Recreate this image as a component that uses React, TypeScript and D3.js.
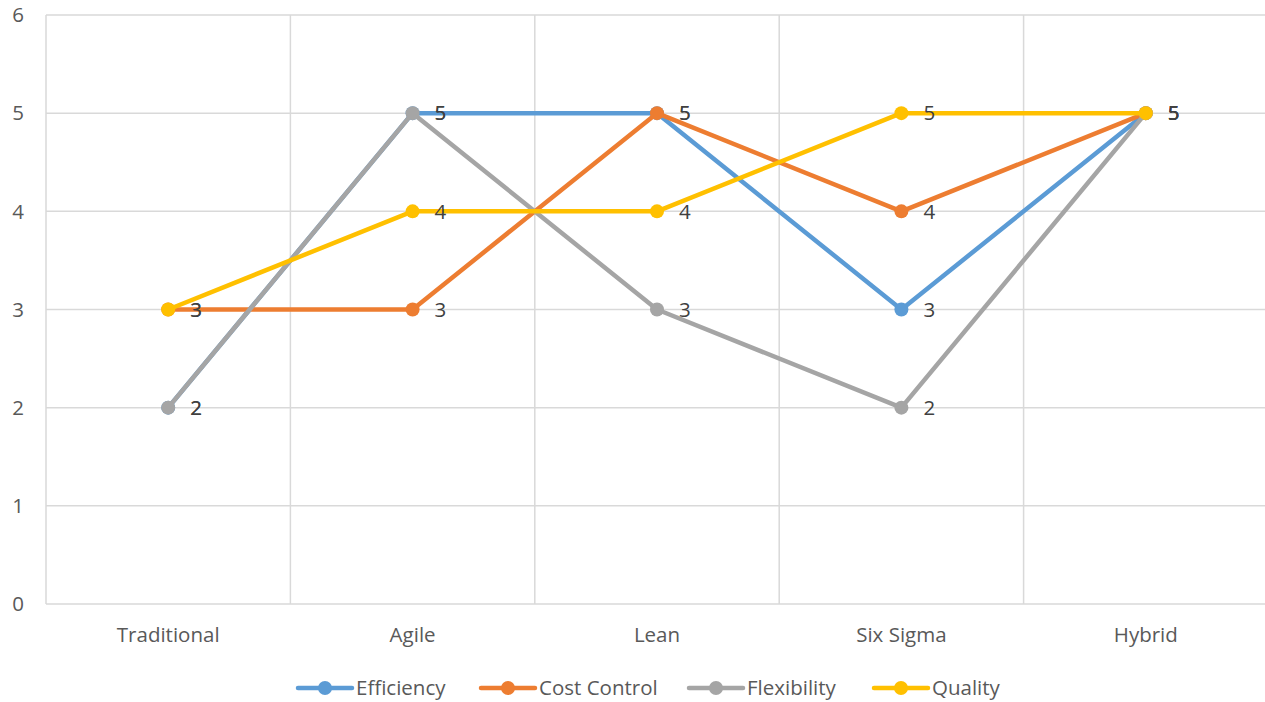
import React from "react";
import * as d3 from "d3";

const categories = ["Traditional", "Agile", "Lean", "Six Sigma", "Hybrid"];
const seriesNames = ["Efficiency", "Cost Control", "Flexibility", "Quality"];
const efficiency = [2, 5, 5, 3, 5];
const costControl = [3, 3, 5, 4, 5];
const flexibility = [2, 5, 3, 2, 5];
const quality = [3, 4, 4, 5, 5];
const yTicks = [0, 1, 2, 3, 4, 5, 6];
const colors = ["#5B9BD5", "#ED7D31", "#A5A5A5", "#FFC000"];

const W = 1265;
const H = 702;
const left = 46;
const right = 1268;
const top = 15;
const bottom = 604;
const FONT = "'Open Sans', sans-serif";
const FS = 20.5;

export default function App() {
  const series = [efficiency, costControl, flexibility, quality];
  const x = d3.scaleBand<string>().domain(categories).range([left, right]);
  const y = d3.scaleLinear().domain([0, 6]).range([bottom, top]);
  const cx = (c: string) => (x(c) ?? 0) + x.bandwidth() / 2;
  const line = d3
    .line<number>()
    .x((_, i) => cx(categories[i]))
    .y((d) => y(d));

  const legendX = [298, 481, 689, 874];

  return (
    <svg width={W} height={H} style={{ position: "absolute", left: 0, top: 0 }}>
      <rect width={W} height={H} fill="#fff" />
      {yTicks.map((t) => (
        <line key={"h" + t} x1={left} x2={right} y1={y(t)} y2={y(t)} stroke="#d9d9d9" strokeWidth={1.5} />
      ))}
      {[...categories.map((c) => x(c) ?? 0), right].map((v, i) => (
        <line key={"v" + i} x1={v} x2={v} y1={top} y2={bottom} stroke="#d9d9d9" strokeWidth={1.5} />
      ))}
      {yTicks.map((t) => (
        <text key={"yl" + t} x={24} y={y(t)} dy="0.35em" textAnchor="end" fontFamily={FONT} fontSize={FS} fill="#595959">
          {t}
        </text>
      ))}
      {categories.map((c) => (
        <text key={"xl" + c} x={cx(c)} y={635} dy="0.35em" textAnchor="middle" fontFamily={FONT} fontSize={FS} fill="#595959">
          {c}
        </text>
      ))}
      {series.map((s, si) => (
        <g key={"s" + si}>
          <path d={line(s) ?? ""} fill="none" stroke={colors[si]} strokeWidth={4.5} strokeLinejoin="round" strokeLinecap="round" />
          {s.map((v, i) => (
            <circle key={i} cx={cx(categories[i])} cy={y(v)} r={7} fill={colors[si]} />
          ))}
        </g>
      ))}
      {series.map((s, si) =>
        s.map((v, i) => (
          <text key={"dl" + si + "-" + i} x={cx(categories[i]) + 22} y={y(v)} dy="0.35em" fontFamily={FONT} fontSize={FS} fill="#404040">
            {v}
          </text>
        ))
      )}
      {seriesNames.map((n, i) => (
        <g key={"lg" + n} transform={`translate(${legendX[i]},688)`}>
          <line x1={0} x2={54} y1={0} y2={0} stroke={colors[i]} strokeWidth={4.5} strokeLinecap="round" />
          <circle cx={27} cy={0} r={7} fill={colors[i]} />
          <text x={58} y={0} dy="0.35em" fontFamily={FONT} fontSize={FS} fill="#595959">
            {n}
          </text>
        </g>
      ))}
    </svg>
  );
}
